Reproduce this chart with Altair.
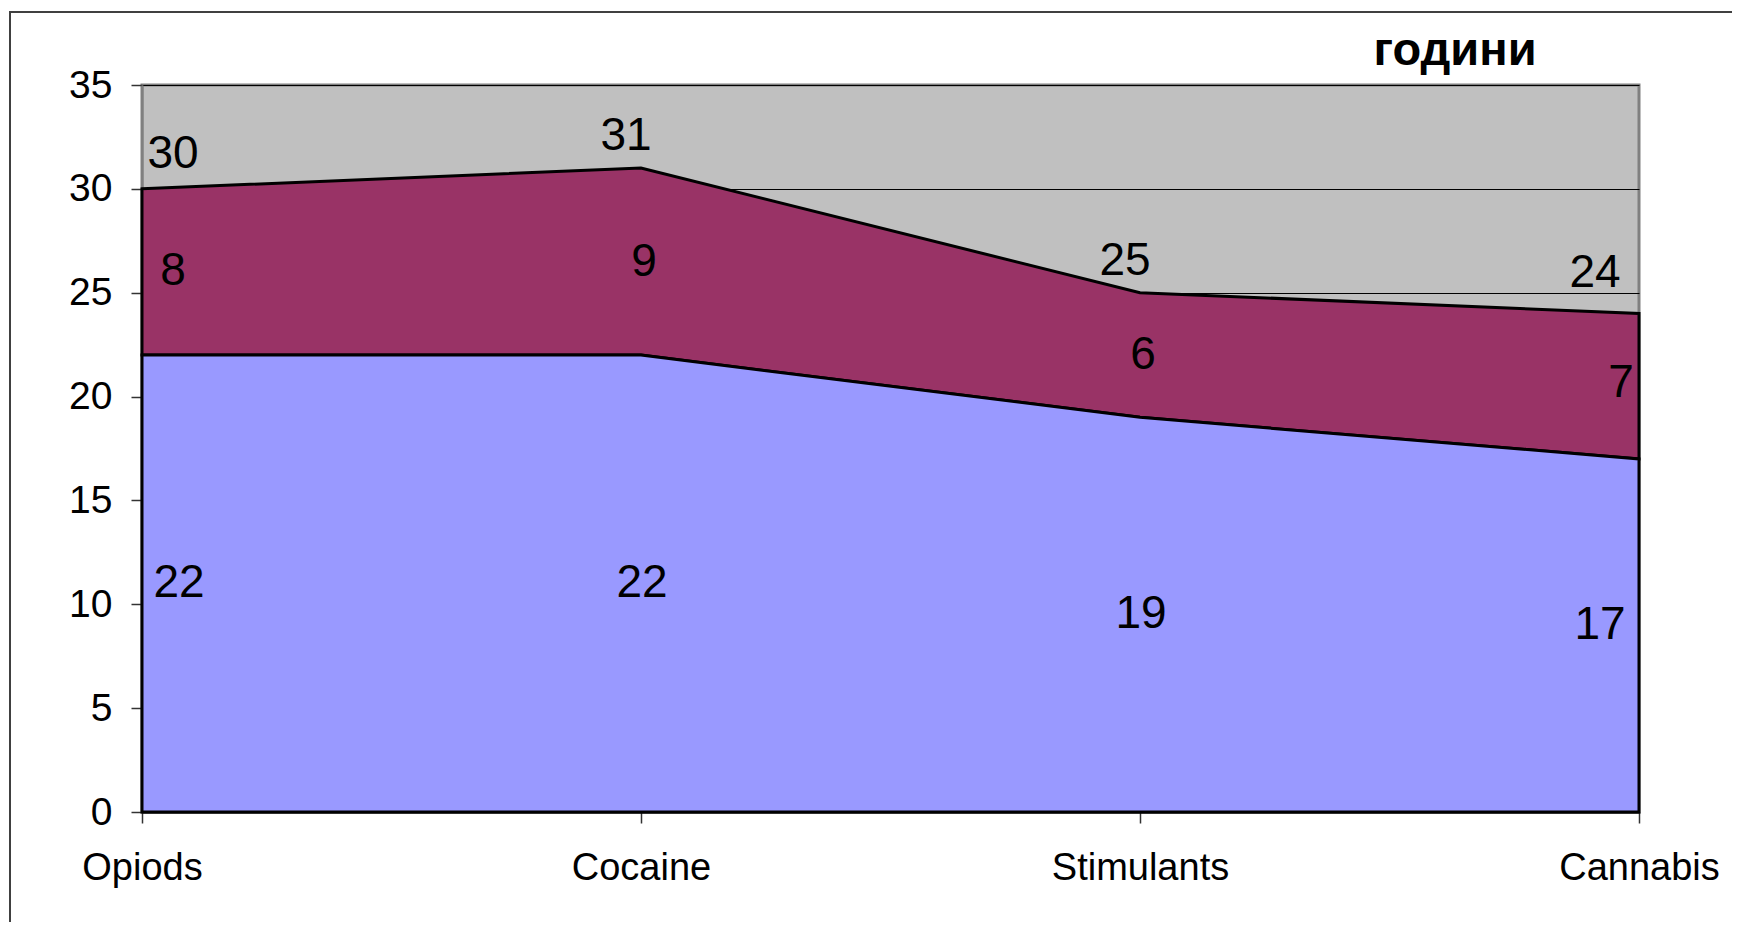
import altair as alt
import pandas as pd

# ---- data ----
categories = ["Opiods", "Cocaine", "Stimulants", "Cannabis"]
first_use = [22, 22, 19, 17]      # bottom (blue) series
duration = [8, 9, 6, 7]           # stacked (maroon) series
totals = [30, 31, 25, 24]         # labels above the stack
y_ticks = [0, 5, 10, 15, 20, 25, 30, 35]
title_text = "години"

df = pd.DataFrame({
    "cat": categories,
    "first": first_use,
    "dur": duration,
    "total": totals,
})

FONT = "Liberation Sans"
W, H = 1497, 727

base = alt.Chart(df).transform_calculate(
    stack_top="datum.first + datum.dur",
    mid_first="datum.first / 2",
    mid_dur="datum.first + datum.dur / 2",
)

x_enc = alt.X(
    "cat:N",
    sort=categories,
    scale=alt.Scale(type="point", padding=0),
    axis=alt.Axis(
        title=None, labelAngle=0, labelFontSize=38, labelFont=FONT,
        labelColor="black", labelPadding=26, tickSize=11, tickColor="#333333",
        tickWidth=1.5, domainColor="black", domainWidth=2, grid=False,
    ),
)
y_scale = alt.Scale(domain=[0, 35], nice=False)
y_axis = alt.Axis(
    title=None, values=y_ticks, labelFontSize=39, labelFont=FONT,
    labelColor="black", labelPadding=19, tickSize=11, tickColor="#333333",
    tickWidth=1.5, domainColor="#808080", domainWidth=2,
    grid=True, gridColor="black", gridWidth=1,
)

maroon = base.mark_area(color="#993366", stroke="black", strokeWidth=3, opacity=1).encode(
    x=x_enc,
    y=alt.Y("stack_top:Q", scale=y_scale, axis=y_axis),
    y2="first:Q",
)
blue = base.mark_area(color="#9999FF", stroke="black", strokeWidth=3, opacity=1).encode(
    x=x_enc,
    y=alt.Y("first:Q", scale=y_scale),
)

CONDS = [
    "datum.cat == 'Opiods'",
    "datum.cat == 'Cocaine' || datum.cat == 'Stimulants'",
    "datum.cat == 'Cannabis'",
]


def labels(field_y, field_text, dxs, dys):
    layers = []
    for cond, dx, dy in zip(CONDS, dxs, dys):
        layers.append(
            base.transform_filter(cond).mark_text(
                font=FONT, fontSize=46, color="black", baseline="middle",
                align="center", dx=dx, dy=dy,
            ).encode(
                x=alt.X("cat:N", sort=categories),
                y=alt.Y(field_y + ":Q"),
                text=alt.Text(field_text + ":Q"),
            )
        )
    return layers


lbl_total = labels("total", "total", [31, -15, -44], [-35, -32, -40])
lbl_dur = labels("mid_dur", "dur", [31, 3, -18], [-1, 0, -3])
lbl_first = labels("mid_first", "first", [37, 1, -39], [-1, -1, -10])

one = alt.Chart(pd.DataFrame({"a": [0]}))
border_left = one.mark_rule(color="#404040", strokeWidth=2).encode(
    x=alt.value(-132), y=alt.value(-73), y2=alt.value(900)
)
border_top = one.mark_rule(color="#404040", strokeWidth=2).encode(
    x=alt.value(-133), x2=alt.value(1700), y=alt.value(-73)
)
title = alt.Chart(pd.DataFrame({"t": [title_text]})).mark_text(
    font=FONT, fontSize=47, fontWeight="bold", color="black",
    align="center", baseline="alphabetic",
).encode(text="t:N", x=alt.value(1313), y=alt.value(-20))

chart = alt.layer(
    maroon, blue, *lbl_total, *lbl_dur, *lbl_first, border_left, border_top, title
).properties(
    width=W, height=H,
    background="white",
    autosize=alt.AutoSizeParams(type="none"),
    padding={"left": 134, "top": 77, "right": 93, "bottom": 110},
).configure_view(
    fill="#C0C0C0", stroke="#808080", strokeWidth=3
)

chart.save("out.html", embed_options={"renderer": "svg", "actions": False})
